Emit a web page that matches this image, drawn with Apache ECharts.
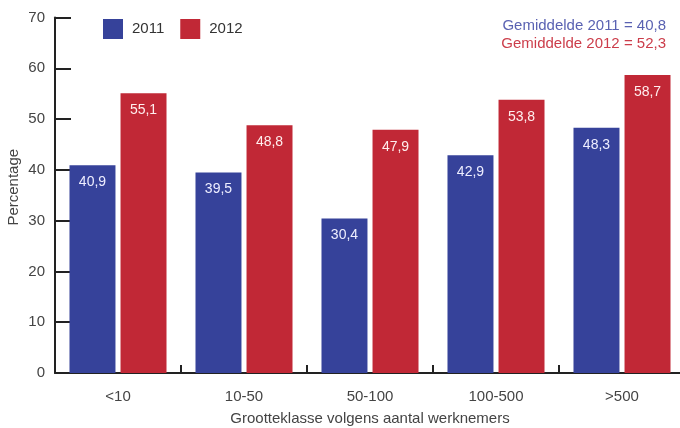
<!DOCTYPE html>
<html>
<head>
<meta charset="utf-8">
<script src="https://cdn.jsdelivr.net/npm/echarts@6/dist/echarts.min.js"></script>
<style>
    html, body { margin: 0; padding: 0; background: #fff; }
    #chart { width: 680px; height: 428px; }
</style>
</head>
<body>
<div id="chart"></div>
<script>
var categories = ['<10', '10-50', '50-100', '100-500', '>500'];
var values2011 = [40.9, 39.5, 30.4, 42.9, 48.3];
var values2012 = [55.1, 48.8, 47.9, 53.8, 58.7];
var yTicks = [0, 10, 20, 30, 40, 50, 60, 70];
var avgLines = ['Gemiddelde 2011 = 40,8', 'Gemiddelde 2012 = 52,3'];

var FONT = '"Liberation Sans", Arial, sans-serif';

function fmt(p) {
    return String(p.value).replace('.', ',');
}

var chart = echarts.init(document.getElementById('chart'));

var option = {
    animation: false,
    textStyle: { fontFamily: FONT },
    legend: {
        left: 103,
        top: 19,
        padding: 0,
        itemWidth: 20,
        itemHeight: 20,
        itemGap: 16,
        icon: 'rect',
        textStyle: { fontSize: 15, color: '#333', fontFamily: FONT, padding: [0, 0, 0, 4] },
        data: ['2011', '2012']
    },
    graphic: [
        {
            type: 'text',
            right: 14,
            top: 18,
            style: { text: avgLines[0], fill: '#5a62b2', font: '15px ' + FONT, textAlign: 'right' }
        },
        {
            type: 'text',
            right: 14,
            top: 36,
            style: { text: avgLines[1], fill: '#cc3d4a', font: '15px ' + FONT, textAlign: 'right' }
        }
    ],
    grid: {
        left: 55,
        right: -5,
        top: 17.5,
        bottom: 55,
        outerBoundsMode: 'none',
        containLabel: false
    },
    xAxis: {
        type: 'category',
        data: categories,
        name: 'Grootteklasse volgens aantal werknemers',
        nameLocation: 'middle',
        nameGap: 38,
        nameTextStyle: { fontSize: 15, color: '#444', fontFamily: FONT },
        axisLine: { lineStyle: { color: '#222', width: 2 } },
        axisTick: { show: true, inside: true, length: 8, lineStyle: { color: '#222', width: 2 } },
        axisLabel: { fontSize: 15, color: '#444', margin: 16, fontFamily: FONT }
    },
    yAxis: {
        type: 'value',
        min: yTicks[0],
        max: yTicks[yTicks.length - 1],
        interval: 10,
        name: 'Percentage',
        nameLocation: 'middle',
        nameGap: 34,
        nameMoveOverlap: false,
        nameRotate: 90,
        nameTextStyle: { fontSize: 15, color: '#444', fontFamily: FONT, padding: [0, 0, 0, 16] },
        splitLine: { show: false },
        axisLine: { show: true, lineStyle: { color: '#222', width: 2 } },
        axisTick: { show: true, inside: true, length: 16, lineStyle: { color: '#222', width: 2 } },
        axisLabel: { fontSize: 15, color: '#444', margin: 10, fontFamily: FONT }
    },
    series: [
        {
            name: '2011',
            type: 'bar',
            data: values2011,
            barGap: '11%',
            barCategoryGap: '23%',
            itemStyle: { color: '#36429a' },
            label: {
                show: true,
                position: 'insideTop',
                distance: 10,
                color: '#eef',
                fontSize: 14,
                fontFamily: FONT,
                formatter: fmt
            }
        },
        {
            name: '2012',
            type: 'bar',
            data: values2012,
            barGap: '11%',
            barCategoryGap: '23%',
            itemStyle: { color: '#c12836' },
            label: {
                show: true,
                position: 'insideTop',
                distance: 10,
                color: '#fee',
                fontSize: 14,
                fontFamily: FONT,
                formatter: fmt
            }
        }
    ]
};

chart.setOption(option);
</script>
</body>
</html>
